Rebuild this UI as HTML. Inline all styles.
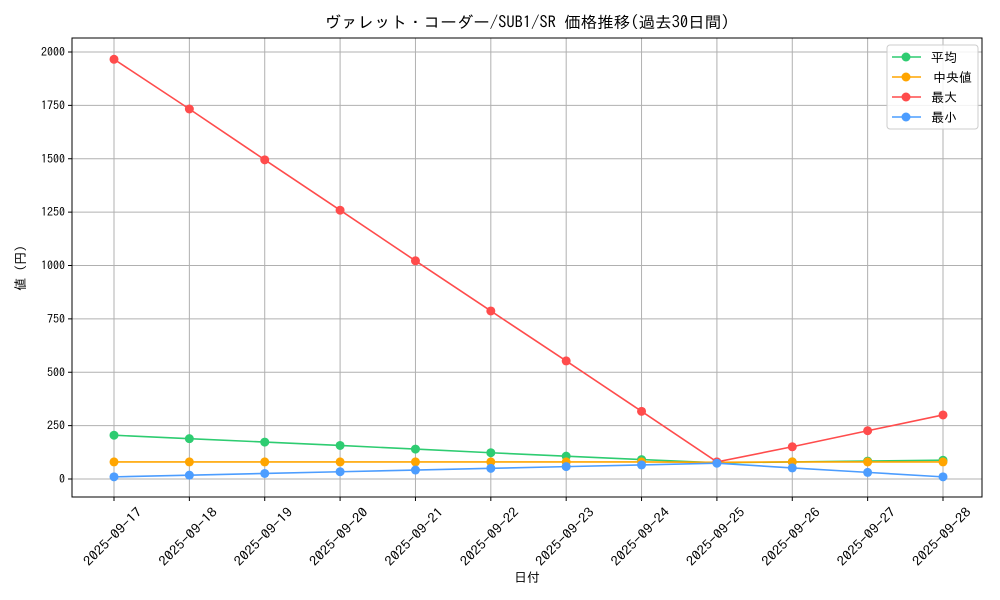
<!DOCTYPE html>
<html><head><meta charset="utf-8"><style>
body{margin:0;background:#fff}
svg{display:block;font-family:"IPAGothic","Noto Sans CJK JP",sans-serif}
</style></head><body>
<svg id="c" width="1000" height="600" xmlns="http://www.w3.org/2000/svg"></svg>
<script>
const categories=["2025-09-17","2025-09-18","2025-09-19","2025-09-20","2025-09-21","2025-09-22","2025-09-23","2025-09-24","2025-09-25","2025-09-26","2025-09-27","2025-09-28"];
const avgValues=[205,189,173,157,140,123,107,91,76,80,84,88];
const medianValues=[80,80,80,80,80,80,80,80,78,80,80,80];
const maxValues=[1966,1733,1495,1259,1022,787,553,317,80,151,226,300];
const minValues=[10,18,26,34,42,50,58,66,74,52,31,10];
const yTicks=[0,250,500,750,1000,1250,1500,1750,2000];
const seriesNames=["平均","中央値","最大","最小"];
const NS="http://www.w3.org/2000/svg";
const svg=document.getElementById('c');
function el(t,a,p){const e=document.createElementNS(NS,t);for(const k in a)e.setAttribute(k,a[k]);(p||svg).appendChild(e);return e;}
const L=72,R=982,T=38,B=497;
const x=i=>114+i*(943-114)/(categories.length-1);
const y=v=>479-v*(479-52)/2000;
const grid=el('g',{});


categories.forEach((c,i)=>{
  el('line',{x1:x(i),x2:x(i),y1:T,y2:B,stroke:'#b0b0b0','stroke-width':1},grid);
  el('line',{x1:x(i),x2:x(i),y1:B,y2:B+4,stroke:'#000'},grid);
  const cx=x(i)-1,cy=541;
  const t=el('text',{x:cx,y:cy,'font-size':13,'text-anchor':'middle',textLength:76,lengthAdjust:'spacingAndGlyphs',transform:`rotate(-45 ${cx} ${cy-4})`});
  
  
  t.textContent=c;
});
yTicks.forEach(v=>{
  el('line',{x1:L,x2:R,y1:y(v),y2:y(v),stroke:'#b0b0b0','stroke-width':1},grid);
  el('line',{x1:L-4,x2:L,y1:y(v),y2:y(v),stroke:'#000'},grid);
  const t=el('text',{x:L-7,y:y(v)+4,'font-size':12,'text-anchor':'end'});
  
  
  t.textContent=v;
});
const frame=el('rect',{x:L,y:T,width:R-L,height:B-T,fill:'none',stroke:'#000','stroke-width':1});


const colors=['#2ecc71','#ffa500','#ff4c4c','#4c9dff'];
[avgValues,medianValues,maxValues,minValues].forEach((vals,s)=>{
  const g=el('g',{});
  
  
  el('polyline',{points:vals.map((v,i)=>x(i)+','+y(v)).join(' '),fill:'none',stroke:colors[s],'stroke-width':1.6},g);
  vals.forEach((v,i)=>{const c=el('circle',{cx:x(i),cy:y(v),r:4.5,fill:colors[s]},g);
    
    });
});
const lg=el('g',{});


el('rect',{x:887,y:45,width:91,height:84,rx:3,fill:'#fff','fill-opacity':0.85,stroke:'#ccc'},lg);
seriesNames.forEach((n,s)=>{
  const yy=57+s*20;
  el('line',{x1:892,x2:921,y1:yy,y2:yy,stroke:colors[s],'stroke-width':1.6},lg);
  el('circle',{cx:906,cy:yy,r:4.5,fill:colors[s]},lg);
  const t=el('text',{x:s==1?933:931,y:yy+5,'font-size':13},lg);
  
  
  t.textContent=n;
});
const title=el('text',{x:527,y:28,'font-size':16,'text-anchor':'middle',textLength:405,lengthAdjust:'spacingAndGlyphs'});


title.textContent='ヴァレット・コーダー/SUB1/SR 価格推移(過去30日間)';
const xt=el('text',{x:527,y:582,'font-size':13,'text-anchor':'middle'});


xt.textContent='日付';
const yt=el('text',{x:25,y:268,'font-size':13,'text-anchor':'middle',transform:'rotate(-90 25 268)'});


yt.textContent='値 (円)';
</script>
</body></html>
